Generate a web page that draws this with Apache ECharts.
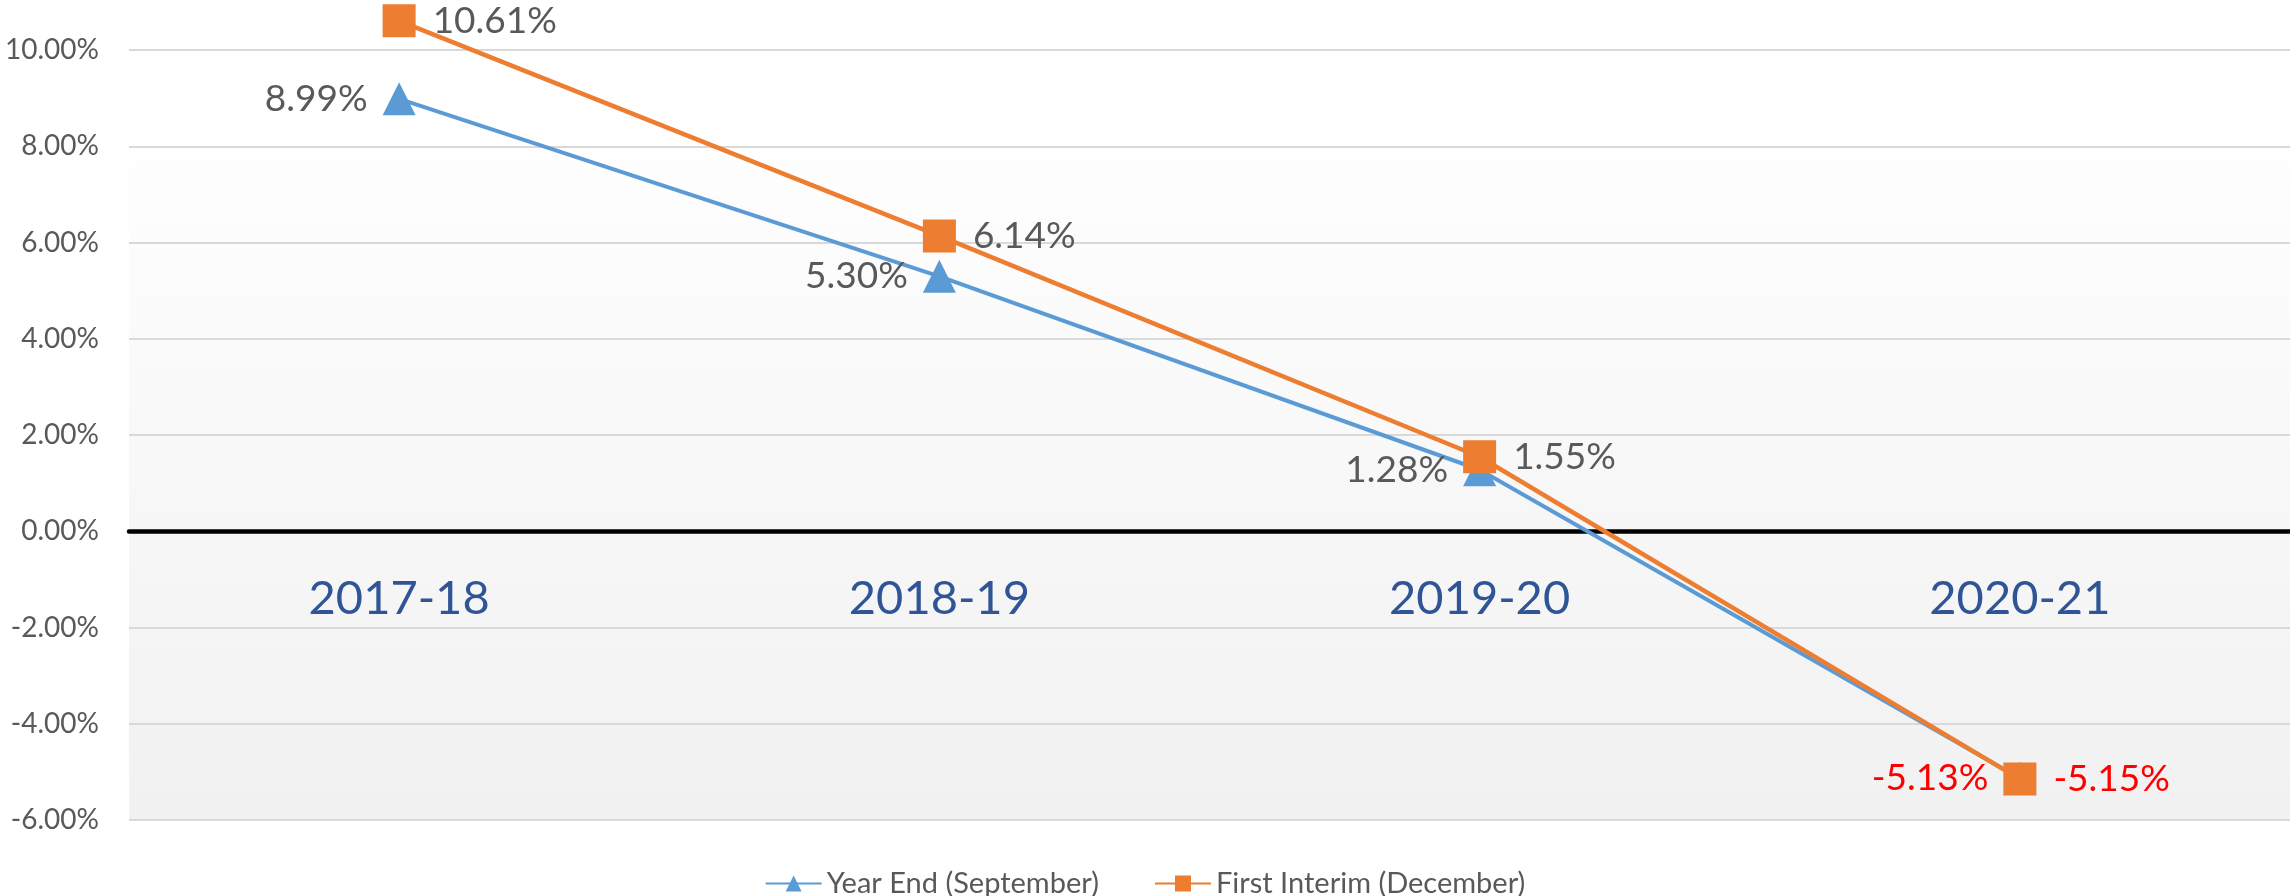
<!DOCTYPE html>
<html>
<head>
<meta charset="utf-8">
<script src="https://cdn.jsdelivr.net/npm/echarts@6/dist/echarts.min.js"></script>
<style>
    html, body { margin: 0; padding: 0; background: #fff; }
    #chart { width: 2290px; height: 896px; }
</style>
</head>
<body>
<div id="chart"></div>
<script>
// 年份分类
var years = ['2017-18', '2018-19', '2019-20', '2020-21'];
// 两条折线的值 (%)
var yearEnd = [8.99, 5.30, 1.28, -5.13];
var firstInterim = [10.61, 6.14, 1.55, -5.15];
var seriesNames = ['Year End (September)', 'First Interim (December)'];
// y 轴刻度
var yMin = -6, yMax = 12, yStep = 2;

var fontName = 'Lato';
var grey = '#595959';

function pct(v) {
    return v.toFixed(2) + '%';
}
// 负值标签用红色
function withLabels(arr) {
    return arr.map(function (v) {
        var item = { value: v };
        if (v < 0) {
            item.label = { color: '#ff0000' };
        }
        return item;
    });
}

var option = {
    animation: false,
    backgroundColor: '#ffffff',
    textStyle: { fontFamily: fontName },
    grid: {
        left: 129,
        right: 0,
        top: -46,
        bottom: 76,
        show: true,
        borderWidth: 0,
        outerBoundsMode: 'none',
        backgroundColor: new echarts.graphic.LinearGradient(0, 0, 0, 1, [
            { offset: 0, color: '#ffffff' },
            { offset: 0.17, color: '#ffffff' },
            { offset: 1, color: '#f1f1f1' }
        ])
    },
    legend: {
        top: 864,
        left: 'center',
        itemWidth: 56,
        itemHeight: 20,
        itemGap: 55,
        textStyle: { fontFamily: fontName, fontSize: 29, color: grey },
        data: seriesNames
    },
    xAxis: {
        type: 'category',
        data: years,
        axisLine: { onZero: true, lineStyle: { color: '#000000', width: 4.5 } },
        axisTick: { show: false },
        // 标签贴在零线下方
        axisLabel: {
            fontFamily: fontName,
            fontSize: 47,
            color: '#2f5597',
            margin: -245
        },
        splitLine: { show: false }
    },
    yAxis: {
        type: 'value',
        min: yMin,
        max: yMax,
        interval: yStep,
        axisLine: { show: false },
        axisTick: { show: false },
        axisLabel: {
            fontFamily: fontName,
            fontSize: 28,
            color: grey,
            margin: 30,
            formatter: function (v) { return pct(v); }
        },
        splitLine: { lineStyle: { color: '#d9d9d9', width: 2 } }
    },
    series: [
        {
            name: seriesNames[0],
            type: 'line',
            data: withLabels(yearEnd),
            symbol: 'triangle',
            symbolSize: 33,
            itemStyle: { color: '#5b9bd5' },
            lineStyle: { color: '#5b9bd5', width: 4 },
            label: {
                show: true,
                position: 'left',
                distance: 15,
                fontFamily: fontName,
                fontSize: 37,
                color: grey,
                formatter: function (p) { return pct(p.value); }
            },
            z: 3
        },
        {
            name: seriesNames[1],
            type: 'line',
            data: withLabels(firstInterim),
            symbol: 'rect',
            symbolSize: 33,
            itemStyle: { color: '#ed7d31' },
            lineStyle: { color: '#ed7d31', width: 4.5 },
            label: {
                show: true,
                position: 'right',
                distance: 17,
                fontFamily: fontName,
                fontSize: 37,
                color: grey,
                formatter: function (p) { return pct(p.value); }
            },
            z: 4
        }
    ]
};

var chart = echarts.init(document.getElementById('chart'));
chart.setOption(option);
</script>
</body>
</html>
